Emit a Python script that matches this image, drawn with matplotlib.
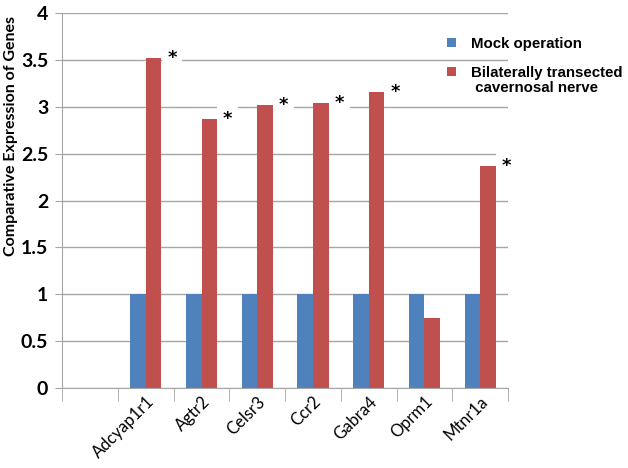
import matplotlib
matplotlib.use("Agg")
import matplotlib.pyplot as plt
import numpy as np

# data (first category is left empty)
genes = ["", "Adcyap1r1", "Agtr2", "Celsr3", "Ccr2", "Gabra4", "Oprm1", "Mtnr1a"]
mock = [np.nan, 1, 1, 1, 1, 1, 1, 1]
transected = [np.nan, 3.52, 2.87, 3.02, 3.04, 3.16, 0.75, 2.37]
significant = [False, True, True, True, True, True, False, True]
yticks = [0, 0.5, 1, 1.5, 2, 2.5, 3, 3.5, 4]
ytick_labels = ["0", "0.5", "1", "1.5", "2", "2.5", "3", "3.5", "4"]

blue = "#4F81BD"
red = "#C0504D"
grid_col = "#a6a6a6"

fig = plt.figure(figsize=(6.28, 4.68), dpi=100)
ax = fig.add_axes([0.099, 0.171, 0.71, 0.801])

x = np.arange(len(genes))
w = 0.28
b1 = ax.bar(x - w / 2, mock, w, color=blue, label="Mock operation", zorder=2)
b2 = ax.bar(x + w / 2, transected, w, color=red,
            label="Bilaterally transected", zorder=2)

# asterisks with white patch over the gridline
for xi, v, s in zip(x, transected, significant):
    if s:
        ax.text(xi + 0.47, v, "*", ha="center", va="center", fontsize=13,
                fontweight="bold", zorder=3,
                bbox=dict(facecolor="white", edgecolor="none", pad=4))

ax.set_xlim(-0.5, len(genes) - 0.5)
ax.set_ylim(0, 4)
ax.set_yticks(yticks)
ax.set_yticklabels(ytick_labels, fontsize=14, fontweight="bold", family="Lato")
ax.yaxis.grid(True, color=grid_col, linewidth=1)
ax.set_axisbelow(True)

ax.set_xticks(x)
ax.set_xticklabels(genes, rotation=45, ha="right", rotation_mode="anchor",
                   fontsize=12, family="Lato")
ax.set_xticks(np.arange(len(genes) + 1) - 0.5, minor=True)
ax.tick_params(axis="x", which="major", length=0, pad=4)
ax.tick_params(axis="x", which="minor", length=9, color=grid_col)
ax.tick_params(axis="y", length=5, color=grid_col, pad=5)

for side in ["top", "right"]:
    ax.spines[side].set_visible(False)
for side in ["left", "bottom"]:
    ax.spines[side].set_color(grid_col)

fig.text(0.017, 0.71, "Comparative Expression of Genes", rotation=90,
         ha="center", va="center", fontsize=11.5, fontweight="bold",
         family="Lato")

leg_font = {"family": "Liberation Sans", "weight": "bold", "size": 10.8}
fig.legend(handles=[b1, b2], loc="upper left", bbox_to_anchor=(0.69, 0.95),
           frameon=False, handlelength=0.6, handleheight=0.6,
           prop=leg_font, labelspacing=1.0, handletextpad=1.0)
fig.text(0.75, 0.813, " cavernosal nerve", ha="left", va="center",
         **leg_font)

fig.savefig("out.png", dpi=100)
